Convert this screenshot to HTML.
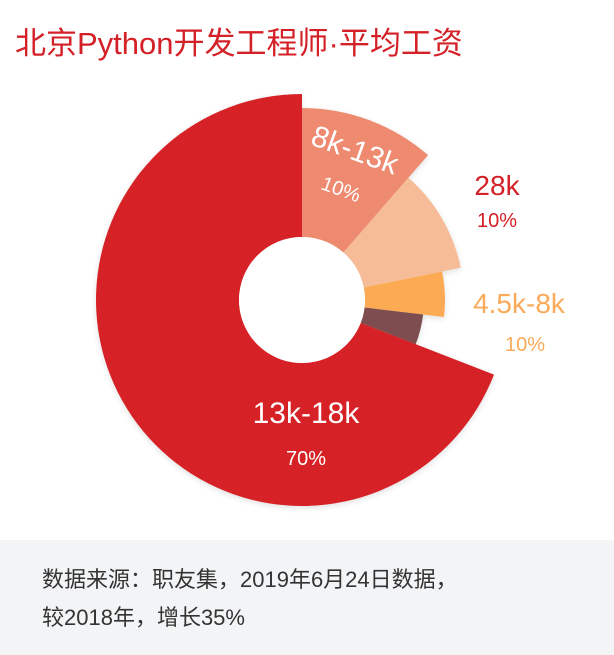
<!DOCTYPE html>
<html><head><meta charset="utf-8"><style>
body{margin:0;width:614px;height:655px;background:#fff;overflow:hidden;font-family:"Liberation Sans","Noto Sans CJK SC",sans-serif;}
#title{position:absolute;left:15px;top:18px;font-size:31px;color:#d42027;white-space:nowrap;}
#foot{position:absolute;left:0;top:540px;width:614px;height:115px;background:#f3f4f6;}
#foot div{position:absolute;left:42px;font-size:22px;color:#333;white-space:nowrap;}
svg{position:absolute;left:0;top:0;}
</style></head><body>
<div id="title">北京Python开发工程师·平均工资</div>
<svg id="chart" width="614" height="540">
<defs><filter id="sh" x="-20%" y="-20%" width="140%" height="140%"><feDropShadow dx="0" dy="2" stdDeviation="3" flood-color="#000" flood-opacity="0.12"/></filter></defs>
<g id="slices" filter="url(#sh)"></g>
<circle cx="302" cy="300" r="63" fill="#fff"/>
<g id="labels"></g>
</svg>
<div id="foot">
<div style="top:22px">数据来源：职友集，2019年6月24日数据，</div>
<div style="top:60px">较2018年，增长35%</div>
</div>
<script>
const categories=["8k-13k","28k","4.5k-8k","other","13k-18k"];
const angleShares=[11.4,10.4,5.1,4.0,69.1];
const radiusValues=[192,162,143,122,206];
const percentLabels=["10%","10%","10%","","70%"];
const colors=["#ee8a6f","#f6bc97","#fdaa55","#7e4d4f","#d62225"];
const cx=302,cy=300,r0=63;
const total=angleShares.reduce((a,b)=>a+b,0);
function ang(v){return v/total*2*Math.PI;}
function rad(v){return v;}
function pt(a,r){return [cx+r*Math.sin(a),cy-r*Math.cos(a)];}
const g=document.getElementById('slices');
let a0=0;
categories.forEach((c,i)=>{
 const a1=a0+ang(angleShares[i]);const R=rad(radiusValues[i]);
 const p1=pt(a0,R),p2=pt(a1,R),q1=pt(a1,r0),q2=pt(a0,r0);
 const large=(a1-a0)>Math.PI?1:0;
 const p=document.createElementNS('http://www.w3.org/2000/svg','path');
 p.setAttribute('d',`M${q2[0]},${q2[1]}L${p1[0]},${p1[1]}A${R},${R} 0 ${large} 1 ${p2[0]},${p2[1]}L${q1[0]},${q1[1]}A${r0},${r0} 0 ${large} 0 ${q2[0]},${q2[1]}Z`);
 p.setAttribute('fill',colors[i]);
 
 
 g.appendChild(p);
 a0=a1;
});
const L=document.getElementById('labels');
const labelSpecs=[
 {t:categories[0],x:355,y:160,s:30,c:"#fff",rot:20},
 {t:percentLabels[0],x:341,y:196,s:20,c:"#fff",rot:20},
 {t:categories[1],x:497,y:195,s:28,c:"#d42027",rot:0},
 {t:percentLabels[1],x:497,y:227,s:20,c:"#d42027",rot:0},
 {t:categories[2],x:519,y:313,s:28,c:"#fbaa5a",rot:0},
 {t:percentLabels[2],x:525,y:351,s:20,c:"#fbaa5a",rot:0},
 {t:categories[4],x:306,y:423,s:30,c:"#fff",rot:0},
 {t:percentLabels[4],x:306,y:465,s:20,c:"#fff",rot:0}
];
labelSpecs.forEach((l,i)=>{
 const t=document.createElementNS('http://www.w3.org/2000/svg','text');
 t.setAttribute('x',l.x);t.setAttribute('y',l.y);
 t.setAttribute('text-anchor','middle');t.setAttribute('font-size',l.s);
 t.setAttribute('fill',l.c);
 t.setAttribute('transform',`rotate(${l.rot} ${l.x} ${l.y-l.s/3})`);
 t.textContent=l.t;
 
 
 L.appendChild(t);
});
</script>
</body></html>
